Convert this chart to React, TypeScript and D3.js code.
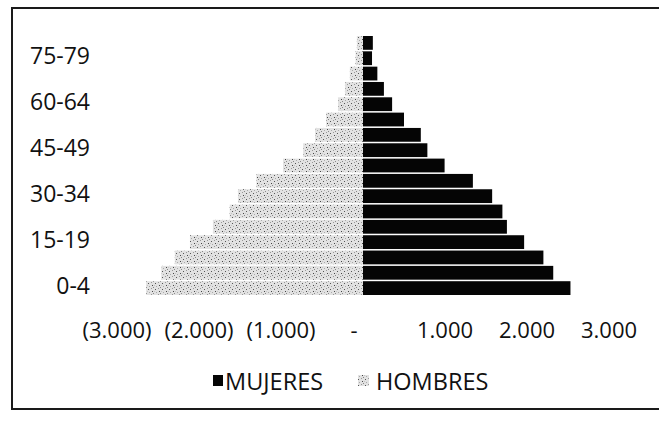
import React from "react"
import * as d3 from "d3"

// age groups, bottom to top
const ageGroups = [
  "0-4", "5-9", "10-14", "15-19", "20-24", "25-29", "30-34", "35-39", "40-44",
  "45-49", "50-54", "55-59", "60-64", "65-69", "70-74", "75-79", "80+",
]
const mujeres = [2530, 2320, 2200, 1965, 1755, 1700, 1575, 1340, 995, 785, 705, 500, 355, 255, 175, 110, 120]
const hombres = [2645, 2460, 2295, 2110, 1830, 1625, 1525, 1300, 975, 730, 585, 450, 305, 220, 160, 90, 75]
const shownAges = ["0-4", "15-19", "30-34", "45-49", "60-64", "75-79"]
const xTicks = [-3000, -2000, -1000, 0, 1000, 2000, 3000]

const W = 659
const H = 423

const es = d3.formatLocale({ decimal: ",", thousands: ".", grouping: [3], currency: ["", ""] })
const fmt = es.format(",.0f")
const tickText = (v: number) => (v === 0 ? "-" : v < 0 ? `(${fmt(-v)})` : fmt(v))

export default function App() {
  const x = d3.scaleLinear().domain([-3000, 3000]).range([117, 609])
  const y = d3.scaleBand().domain(ageGroups).range([295, 36]).paddingInner(0.1)
  const font = "'Open Sans', 'Noto Sans', sans-serif"

  return (
    <svg width={W} height={H} style={{ position: "absolute", left: 0, top: 0, background: "#fff" }} fontFamily={font}>
      <defs>
        <pattern id="speck" width="7" height="6" patternUnits="userSpaceOnUse">
          <rect width="7" height="6" fill="#e2e2e2" />
          <rect x="1" y="1" width="1" height="1" fill="#555" />
          <rect x="4" y="0" width="1" height="1" fill="#999" />
          <rect x="5" y="3" width="1" height="1" fill="#444" />
          <rect x="2" y="4" width="1" height="1" fill="#aaa" />
          <rect x="0" y="3" width="1" height="1" fill="#c4c4c4" />
          <rect x="6" y="5" width="1" height="1" fill="#888" />
        </pattern>
      </defs>

      {/* frame */}
      <path d={`M680,8 H12 V409 H680`} fill="none" stroke="#1a1a1a" strokeWidth={2} />

      {/* hombres (left) */}
      {ageGroups.map((a, i) => (
        <rect key={"h" + a} x={x(-hombres[i])} y={y(a)} width={x(0) - x(-hombres[i])}
          height={y.bandwidth()} fill="url(#speck)" />
      ))}
      {/* mujeres (right) */}
      {ageGroups.map((a, i) => (
        <rect key={"m" + a} x={x(0)} y={y(a)} width={x(mujeres[i]) - x(0)}
          height={y.bandwidth()} fill="#050505" />
      ))}

      {/* y labels */}
      {shownAges.map(a => (
        <text key={a} x={90} y={(y(a) as number) + y.bandwidth() / 2 - 2} dy="0.35em"
          textAnchor="end" fontSize={23} fill="#111">{a}</text>
      ))}

      {/* x labels */}
      {xTicks.map(t => (
        <text key={t} x={x(t) + (t === 0 ? -9 : 0)} y={330} dy="0.35em" textAnchor="middle"
          fontSize={22} fill="#111">{tickText(t)}</text>
      ))}

      {/* legend */}
      <rect x={213} y={375} width={10} height={11} fill="#050505" />
      <text x={225} y={382} dy="0.35em" fontSize={23.5} fill="#111">MUJERES</text>
      <rect x={358} y={375} width={11} height={11} fill="url(#speck)" />
      <text x={376} y={382} dy="0.35em" fontSize={23.5} fill="#111">HOMBRES</text>
    </svg>
  )
}
